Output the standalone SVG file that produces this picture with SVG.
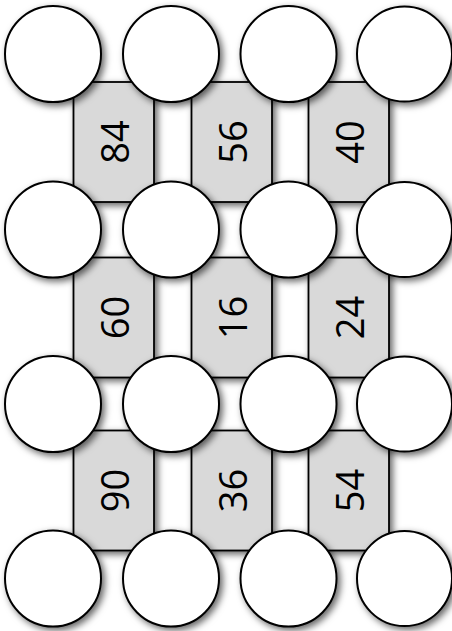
<svg xmlns="http://www.w3.org/2000/svg" width="452" height="631" viewBox="0 0 452 631">
<defs>
<filter id="sh" x="-30%" y="-30%" width="160%" height="160%">
<feDropShadow dx="3" dy="3" stdDeviation="3.5" flood-color="#000" flood-opacity="0.6"/>
</filter>
</defs>
<style>
.box{fill:#d9d9d9;stroke:#000;stroke-width:1.8;filter:url(#sh)}
.c{fill:#fff;stroke:#000;stroke-width:2;filter:url(#sh)}
.t{font-family:"Open Sans","Liberation Sans",Arial,sans-serif;font-size:38px;fill:#000;text-anchor:middle;dominant-baseline:central}
</style>
<g id="boxes">
<g id="b84"><rect class="box" x="73.5" y="82" width="80.5" height="120"/><text class="t" transform="translate(114,142) rotate(-90)">84</text></g>
<g id="b56"><rect class="box" x="191.5" y="82" width="80.5" height="120"/><text class="t" transform="translate(232,142) rotate(-90)">56</text></g>
<g id="b40"><rect class="box" x="308.5" y="82" width="80.5" height="120"/><text class="t" transform="translate(349,142) rotate(-90)">40</text></g>
<g id="b60"><rect class="box" x="73.5" y="257.5" width="80.5" height="120"/><text class="t" transform="translate(114,317.5) rotate(-90)">60</text></g>
<g id="b16"><rect class="box" x="191.5" y="257.5" width="80.5" height="120"/><text class="t" transform="translate(232,317.5) rotate(-90)">16</text></g>
<g id="b24"><rect class="box" x="308.5" y="257.5" width="80.5" height="120"/><text class="t" transform="translate(349,317.5) rotate(-90)">24</text></g>
<g id="b90"><rect class="box" x="73.5" y="430.5" width="80.5" height="120"/><text class="t" transform="translate(114,490.5) rotate(-90)">90</text></g>
<g id="b36"><rect class="box" x="191.5" y="430.5" width="80.5" height="120"/><text class="t" transform="translate(232,490.5) rotate(-90)">36</text></g>
<g id="b54"><rect class="box" x="308.5" y="430.5" width="80.5" height="120"/><text class="t" transform="translate(349,490.5) rotate(-90)">54</text></g>
</g>
<g id="circles">
<g id="c11"><circle class="c" cx="53" cy="54" r="48"/></g>
<g id="c12"><circle class="c" cx="171" cy="54" r="48"/></g>
<g id="c13"><circle class="c" cx="288.5" cy="54" r="48"/></g>
<g id="c14"><circle class="c" cx="404.5" cy="54" r="47.5"/></g>
<g id="c21"><circle class="c" cx="53" cy="229.5" r="48"/></g>
<g id="c22"><circle class="c" cx="171" cy="229.5" r="48"/></g>
<g id="c23"><circle class="c" cx="288.5" cy="229.5" r="48"/></g>
<g id="c24"><circle class="c" cx="404.5" cy="229.5" r="47.5"/></g>
<g id="c31"><circle class="c" cx="53" cy="404" r="48"/></g>
<g id="c32"><circle class="c" cx="171" cy="404" r="48"/></g>
<g id="c33"><circle class="c" cx="288.5" cy="404" r="48"/></g>
<g id="c34"><circle class="c" cx="404.5" cy="404" r="47.5"/></g>
<g id="c41"><circle class="c" cx="53" cy="578.5" r="48"/></g>
<g id="c42"><circle class="c" cx="171" cy="578.5" r="48"/></g>
<g id="c43"><circle class="c" cx="288.5" cy="578.5" r="48"/></g>
<g id="c44"><circle class="c" cx="404.5" cy="578.5" r="47.5"/></g>
</g>
<g id="connectors"/>
</svg>
